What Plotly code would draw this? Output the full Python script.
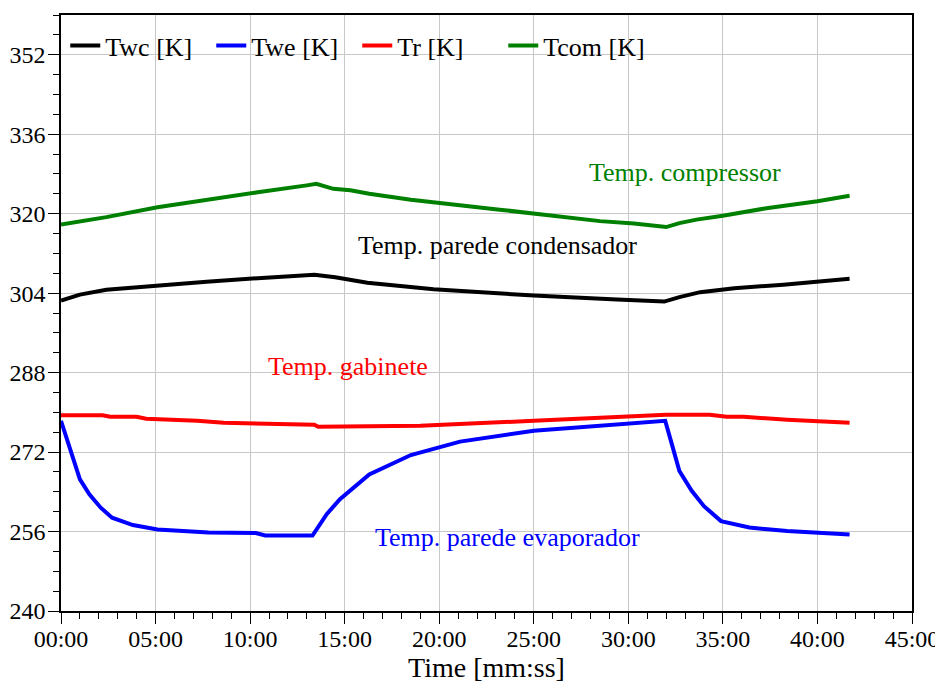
import plotly.graph_objects as go

# ---- data (minutes, Kelvin) ----
t_twc = [0, 0.5, 1.0, 2.4, 5.1, 7.7, 10.4, 13.0, 13.4, 14.5, 16.2, 19.7, 25.0, 29.4, 31.9, 32.7, 33.8, 35.6, 38.2, 41.7]
twc = [302.5, 303.2, 303.7, 304.7, 305.6, 306.3, 307.0, 307.6, 307.7, 307.2, 306.1, 304.8, 303.5, 302.7, 302.3, 303.2, 304.2, 305.0, 305.7, 306.9]

t_twe = [0, 0.2, 0.6, 1.0, 1.5, 2.1, 2.7, 3.8, 5.1, 6.3, 7.8, 10.3, 10.8, 13.3, 14.05, 14.75, 16.3, 18.5,
         21.1, 25.0, 30.3, 31.95, 32.3, 32.7, 33.35, 34.0, 34.9, 36.4, 38.4, 41.7]
twe = [278.3, 275.9, 270.9, 266.5, 263.5, 260.8, 258.8, 257.3, 256.4, 256.1, 255.8, 255.7, 255.2, 255.2, 259.5,
       262.5, 267.5, 271.4, 274.1, 276.3, 277.9, 278.3, 273.6, 268.2, 264.2, 261.1, 258.1, 256.8, 256.1, 255.4]

t_tr = [0, 2.2, 2.6, 4.0, 4.5, 6.3, 7.2, 8.6, 10.4, 11.9, 13.4, 13.6, 17.0, 19.0, 25.0, 30.3, 32.0, 34.3,
        35.2, 36.1, 38.4, 41.7]
tr = [279.4, 279.4, 279.1, 279.1, 278.7, 278.5, 278.3, 277.9, 277.7, 277.5, 277.5, 277.1, 277.1, 277.3, 278.3,
      279.1, 279.5, 279.5, 279.1, 279.1, 278.5, 277.9]

t_tcom = [0, 2.4, 5.1, 6.8, 8.0, 10.4, 13.0, 13.5, 14.4, 15.3, 16.3, 18.5, 23.2, 28.5, 30.3, 32.0, 32.7, 33.6,
          35.0, 37.3, 40.0, 41.7]
tcom = [317.8, 319.3, 321.3, 322.2, 323.0, 324.3, 325.7, 326.0, 325.0, 324.7, 324.0, 322.8, 320.8, 318.5, 318.0,
        317.3, 318.1, 318.8, 319.6, 321.1, 322.5, 323.6]

x_tickvals = [0, 5, 10, 15, 20, 25, 30, 35, 40, 45]
x_ticktext = ["00:00", "05:00", "10:00", "15:00", "20:00", "25:00", "30:00", "35:00", "40:00", "45:00"]
y_tickvals = [240, 256, 272, 288, 304, 320, 336, 352]

series_names = ["Twc [K]", "Twe [K]", "Tr [K]", "Tcom [K]"]
series_colors = ["#000000", "#0000FF", "#FF0000", "#008000"]

labels = ["Temp. compressor", "Temp. parede condensador", "Temp. gabinete", "Temp. parede evaporador"]
label_colors = ["#008000", "#000000", "#FF0000", "#0000FF"]
label_x = [32.97, 23.08, 15.15, 23.61]
label_y = [328.3, 313.6, 289.2, 254.7]

FONT = "Liberation Serif, Times New Roman, serif"

fig = go.Figure()
for xs, ys, name, col in zip([t_twc, t_twe, t_tr, t_tcom], [twc, twe, tr, tcom], series_names, series_colors):
    fig.add_trace(go.Scatter(x=xs, y=ys, mode="lines", name=name,
                             line=dict(color=col, width=4)))

for txt, col, lx, ly in zip(labels, label_colors, label_x, label_y):
    fig.add_annotation(x=lx, y=ly, text=txt, showarrow=False, xanchor="center", yanchor="middle",
                       font=dict(family=FONT, size=26, color=col))

axis_common = dict(showline=True, linecolor="black", linewidth=1.5, mirror=True,
                   showgrid=True, gridcolor="#C8C8C8", gridwidth=1, zeroline=False,
                   ticks="outside", ticklen=11, tickwidth=1.2, tickcolor="black", automargin=False,
                   tickfont=dict(family=FONT, size=24, color="black"))

fig.update_xaxes(range=[0, 45], tickvals=x_tickvals, ticktext=x_ticktext, ticklabelstandoff=-6,
                 minor=dict(dtick=1, tick0=0, ticks="outside", ticklen=6, tickwidth=1.2, tickcolor="black", showgrid=False),
                 title=dict(text="Time [mm:ss]", font=dict(family=FONT, size=28, color="black"), standoff=0),
                 **axis_common)
fig.update_yaxes(range=[240, 360], tickvals=y_tickvals, ticklabelstandoff=-2,
                 minor=dict(dtick=4, tick0=240, ticks="outside", ticklen=6, tickwidth=1.2, tickcolor="black", showgrid=False),
                 **axis_common)

# page body has an 8px default margin: size the figure to fit the 943x689 window
fig.update_layout(
    width=935, height=681,
    margin=dict(l=53, r=31, t=7, b=78),
    paper_bgcolor="white", plot_bgcolor="white",
    font=dict(family=FONT, color="black"),
    legend=dict(orientation="h", x=0.005, y=0.988, xanchor="left", yanchor="top",
                bgcolor="rgba(0,0,0,0)", borderwidth=0,
                font=dict(family=FONT, size=26, color="black"),
                entrywidth=101, entrywidthmode="pixels", itemwidth=30),
)

fig.write_html("out.html")
